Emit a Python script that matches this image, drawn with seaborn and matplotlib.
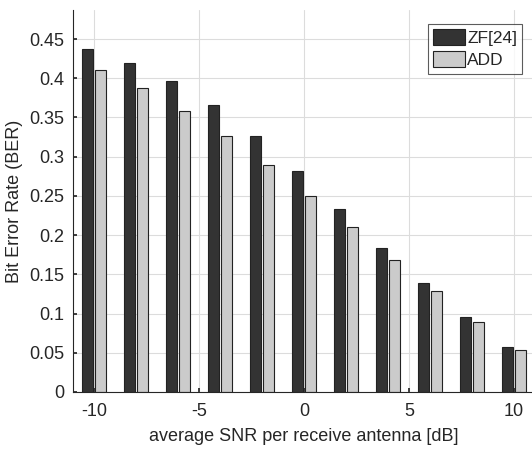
import numpy as np
import pandas as pd
import seaborn as sns
import matplotlib
matplotlib.use("Agg")
import matplotlib.pyplot as plt

snr = [-10, -8, -6, -4, -2, 0, 2, 4, 6, 8, 10]
zf_ber = [0.437, 0.420, 0.396, 0.366, 0.327, 0.282, 0.233, 0.184, 0.139, 0.095, 0.057]
add_ber = [0.410, 0.387, 0.358, 0.326, 0.290, 0.250, 0.210, 0.168, 0.129, 0.089, 0.054]
methods = ["ZF[24]", "ADD"]
colors = ["#333333", "#cbcbcb"]
x_ticks = [-10, -5, 0, 5, 10]
y_ticks = [0, 0.05, 0.1, 0.15, 0.2, 0.25, 0.3, 0.35, 0.4, 0.45]

df = pd.DataFrame({
    "snr": snr * 2,
    "ber": zf_ber + add_ber,
    "method": [methods[0]] * len(snr) + [methods[1]] * len(snr),
})

sns.set_theme(style="white")
plt.rcParams["font.family"] = ["Liberation Sans", "DejaVu Sans"]

fig = plt.figure(figsize=(5.32, 4.49), dpi=100)
ax = fig.add_axes([73 / 532, 1 - 392 / 449, (535 - 73) / 532, (392 - 10) / 449])

sns.barplot(data=df, x="snr", y="ber", hue="method", native_scale=True,
            palette=colors, width=0.6, gap=0.13, edgecolor="#222222",
            linewidth=0.8, ax=ax, hue_order=methods)

ax.set_xlim(-11, 11)
ax.set_ylim(0, 0.487)
ax.set_xticks(x_ticks)
ax.set_xticklabels([str(t) for t in x_ticks])
ax.set_yticks(y_ticks)
ax.set_yticklabels(["0"] + [f"{t:g}" for t in y_ticks[1:]])
ax.grid(True, color="#dcdcdc", linewidth=0.8)
ax.set_axisbelow(True)
for s in ["top", "right"]:
    ax.spines[s].set_visible(False)
for s in ["left", "bottom"]:
    ax.spines[s].set_color("#262626")
    ax.spines[s].set_linewidth(0.8)
ax.tick_params(axis="both", direction="in", length=3, color="#262626",
               labelsize=13, labelcolor="#262626", left=True, bottom=True)
ax.tick_params(axis="x", pad=8)
ax.tick_params(axis="y", pad=6)
ax.set_xlabel("average SNR per receive antenna [dB]", fontsize=13, color="#262626",
              labelpad=6)
ax.set_ylabel("Bit Error Rate (BER)", fontsize=13, color="#262626", labelpad=5)

leg = ax.legend(loc="upper left", bbox_to_anchor=((428 - 73) / 462, 1 - 14 / 382),
                frameon=True, fontsize=12.5, handlelength=1.85, handleheight=1.05,
                handletextpad=0.1, borderpad=0.3, labelspacing=0.3,
                borderaxespad=0, fancybox=False)
leg.get_frame().set_edgecolor("#333333")
leg.get_frame().set_linewidth(0.8)
for t in leg.get_texts():
    t.set_color("#262626")

fig.savefig("out.png", dpi=100)
